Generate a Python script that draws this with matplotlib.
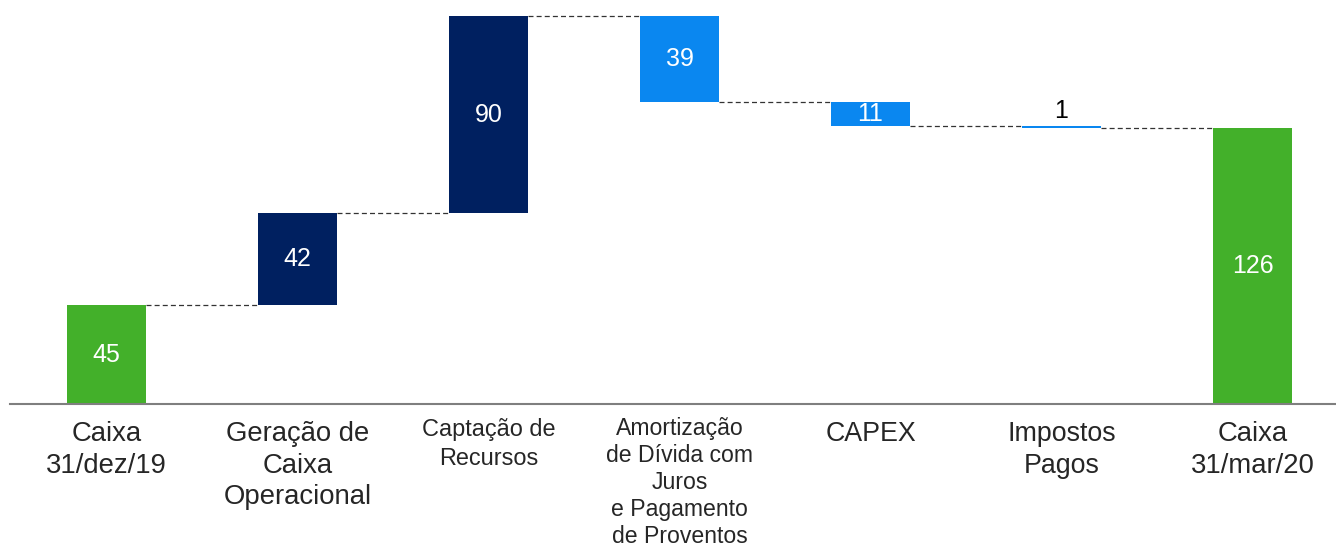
import matplotlib
matplotlib.use("Agg")
import matplotlib.pyplot as plt

plt.rcParams['font.family'] = ['Liberation Sans', 'DejaVu Sans']

categories = ["Caixa\n31/dez/19", "Geração de\nCaixa\nOperacional", "Captação de\nRecursos",
              "Amortização\nde Dívida com\nJuros\ne Pagamento\nde Proventos", "CAPEX",
              "Impostos\nPagos", "Caixa\n31/mar/20"]
values = [45, 42, 90, -39, -11, -1, 126]
kinds = ["total", "delta", "delta", "delta", "delta", "delta", "total"]
label_sizes = [19.8, 19.8, 16.9, 16.6, 19.3, 19.3, 19.8]
label_spacing = [1.27, 1.27, 1.3, 1.22, 1.3, 1.3, 1.27]
label_pads = [12.5, 12.5, 10.3, 9.4, 12.5, 12.5, 12.5]

GREEN = "#43B02A"
NAVY = "#002060"
LIGHT = "#0A87F0"

fig = plt.figure(figsize=(13.36, 5.49), dpi=100)
ax = fig.add_axes([10/1336, (549-404)/549, 1326/1336, 404/549])

W = 79/191
running = 0
bottoms, heights, colors, tops_after = [], [], [], []
for v, k in zip(values, kinds):
    if k == "total":
        b, h, c = 0, v, GREEN
        running = v
    elif v >= 0:
        b, h, c = running, v, NAVY
        running += v
    else:
        b, h, c = running + v, -v, LIGHT
        running += v
    bottoms.append(b); heights.append(h); colors.append(c); tops_after.append(running)

xs = list(range(len(values)))
ax.bar(xs, heights, bottom=bottoms, width=W, color=colors, linewidth=0, zorder=2)

# connectors
for i in range(len(values) - 1):
    y = tops_after[i]
    ax.plot([xs[i] + W/2, xs[i+1] - W/2], [y, y], color="#333333", lw=0.9,
            ls=(0, (4, 2.5)), zorder=1)

# data labels
for i, (v, b, h) in enumerate(zip(values, bottoms, heights)):
    if h < 3:
        ax.text(xs[i], b + h + 7, f"{abs(v)}", ha="center", va="center",
                fontsize=18, color="#000000")
    else:
        ax.text(xs[i], b + h/2, f"{abs(v)}", ha="center", va="center",
                fontsize=18, color="white")

ax.set_xlim(-0.505, 6.437)
ax.set_ylim(0, 184.5)
for s in ["top", "right", "left"]:
    ax.spines[s].set_visible(False)
ax.spines["bottom"].set_color("#7F7F7F")
ax.spines["bottom"].set_linewidth(1.5)
ax.set_yticks([])
ax.set_xticks([])

# category labels
for x, lab, fs, ls, pad in zip(xs, categories, label_sizes, label_spacing, label_pads):
    ax.annotate(lab, xy=(x, 0), xycoords=("data", "axes fraction"),
                xytext=(0, -pad), textcoords="offset points",
                ha="center", va="top", fontsize=fs, linespacing=ls,
                color="#262626", annotation_clip=False)

fig.savefig("out.png", dpi=100)
